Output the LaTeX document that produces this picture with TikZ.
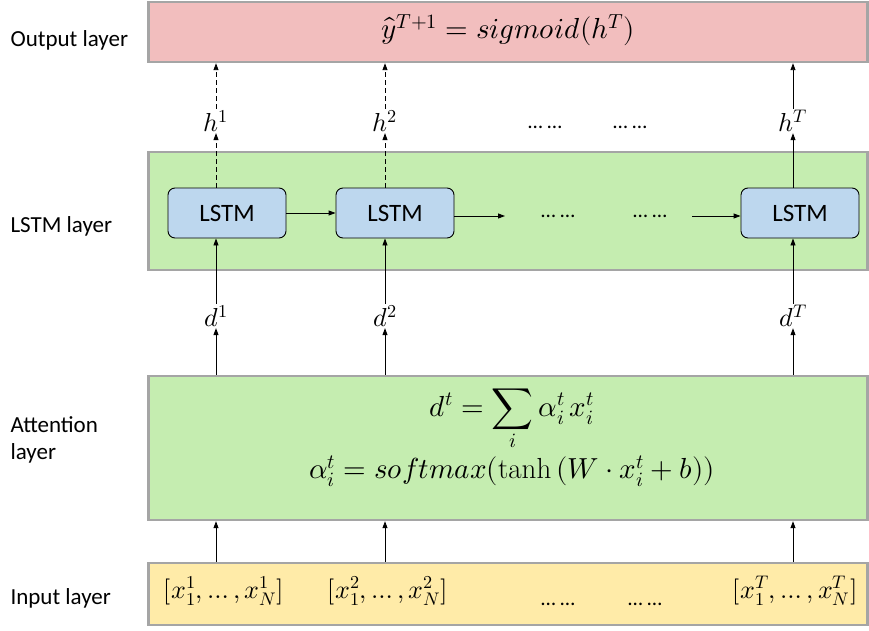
\documentclass[tikz,border=0pt]{standalone}
\usepackage{amsmath}
\usepackage{fontspec}
\usepackage{unicode-math}
\setmainfont{Carlito}
\setmathfont{Latin Modern Math}
\setmathrm{Latin Modern Roman}
\usetikzlibrary{arrows.meta}
\definecolor{pinkfill}{HTML}{F2BEBE}
\definecolor{greenfill}{HTML}{C5EDB0}
\definecolor{bluefill}{HTML}{BDD7EE}
\definecolor{yellowfill}{HTML}{FFEBA8}
\definecolor{edgegray}{HTML}{A5A5A5}
\tikzset{
  layer/.style={draw=edgegray, line width=2.4pt, minimum width=719pt, inner sep=0pt},
  lstm/.style={draw=black, line width=0.9pt, fill=bluefill, rounded corners=7pt, minimum width=118pt, minimum height=50pt, inner sep=0pt, font=\fontsize{25}{28}\selectfont},
  sidelabel/.style={anchor=west, font=\fontsize{23}{27}\selectfont, align=left},
  arr/.style={-{Triangle[length=7pt,width=5pt]}, line width=0.9pt},
  dsh/.style={dash pattern=on 5pt off 3pt},
  mth/.style={font=\fontsize{26}{30}\selectfont, inner sep=1pt},
  bigmth/.style={font=\fontsize{29}{33}\selectfont, inner sep=1pt},
  dots/.style={font=\fontsize{21}{23}\selectfont, inner sep=1pt}
}
\begin{document}
\begin{tikzpicture}[x=1pt,y=-1pt]
\useasboundingbox (0,0) rectangle (869,631);
% layers
\node[layer, fill=pinkfill, minimum height=60pt] (out) at (508,32) {};
\node[layer, fill=greenfill, minimum height=118pt] (lstmL) at (508,211) {};
\node[layer, fill=greenfill, minimum height=144pt] (att) at (508,448) {};
\node[layer, fill=yellowfill, minimum height=62pt] (inp) at (508,594) {};
% side labels
\node[sidelabel] (lo) at (7,40) {Output layer};
\node[sidelabel] (ll) at (7,226) {LSTM layer};
\node[sidelabel] (la) at (7,440) {Attention\\layer};
\node[sidelabel] (li) at (7,598) {Input layer};
% output text
\node[bigmth] (yt) at (508,30) {$\hat{y}^{T+1} = sigmoid(h^{T})$};
% LSTM nodes
\node[lstm] (l1) at (227,213) {LSTM};
\node[lstm] (l2) at (395,213) {LSTM};
\node[lstm] (l3) at (800,213) {LSTM};
\coordinate (l2out) at (505,216);
\coordinate (l3in) at (692,216);
\node[dots] (ld1) at (558,216) {\dots\ \dots};
\node[dots] (ld2) at (650,216) {\dots\ \dots};
% h labels
\node[mth] (h1) at (216,121) {$h^1$};
\node[mth] (h2) at (385,121) {$h^2$};
\node[mth] (hT) at (793,121) {$h^T$};
\node[dots] (hd1) at (545,127) {\dots\ \dots};
\node[dots] (hd2) at (630,127) {\dots\ \dots};
% d labels
\node[mth] (d1) at (216,316) {$d^1$};
\node[mth] (d2) at (385,316) {$d^2$};
\node[mth] (dT) at (793,316) {$d^T$};
% attention text
\node[bigmth] (eq1) at (512,420) {$\displaystyle d^t = \sum_i \alpha_i^t\, x_i^t$};
\node[bigmth] (eq2) at (512,471) {$\alpha_i^t = softmax(\tanh\,(W\cdot x_i^t + b))$};
% input texts
\node[mth] (x1) at (224,591) {$[x_1^1,\dots,x_N^1]$};
\node[mth] (x2) at (388,591) {$[x_1^2,\dots,x_N^2]$};
\node[mth] (xT) at (795,591) {$[x_1^T,\dots,x_N^T]$};
\node[dots] (xd1) at (558,604) {\dots\ \dots};
\node[dots] (xd2) at (645,604) {\dots\ \dots};
% column coordinates
\coordinate (c1) at (216,0);
\coordinate (c2) at (385,0);
\coordinate (c3) at (793,0);
% LSTM -> h -> output
\draw[arr,dsh] (l1.north -| c1) -- (h1.south -| c1);
\draw[arr,dsh] (h1.north -| c1) -- (out.south -| c1);
\draw[arr,dsh] (l2.north -| c2) -- (h2.south -| c2);
\draw[arr,dsh] (h2.north -| c2) -- (out.south -| c2);
\draw[arr] (l3.north -| c3) -- (hT.south -| c3);
\draw[arr] (hT.north -| c3) -- (out.south -| c3);
% horizontal
\draw[arr] (l1.east) -- (l2.west);
\draw[arr] (l2.east |- l2out) -- (l2out);
\draw[arr] (l3in) -- (l3.west |- l3in);
% attention -> d -> LSTM
\draw[arr] (att.north -| c1) -- (d1.south -| c1);
\draw[arr] (d1.north -| c1) -- (l1.south -| c1);
\draw[arr] (att.north -| c2) -- (d2.south -| c2);
\draw[arr] (d2.north -| c2) -- (l2.south -| c2);
\draw[arr] (att.north -| c3) -- (dT.south -| c3);
\draw[arr] (dT.north -| c3) -- (l3.south -| c3);
% input -> attention
\draw[arr] (inp.north -| c1) -- (att.south -| c1);
\draw[arr] (inp.north -| c2) -- (att.south -| c2);
\draw[arr] (inp.north -| c3) -- (att.south -| c3);
\end{tikzpicture}
\end{document}
